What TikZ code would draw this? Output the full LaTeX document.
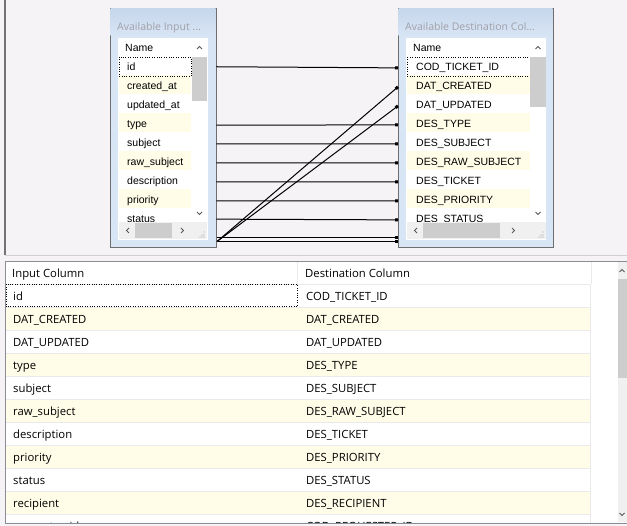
\documentclass[tikz,border=0pt]{standalone}
\usepackage{fontspec}
\setmainfont{Liberation Sans}
\newfontfamily\gridfont{Open Sans}
\usetikzlibrary{arrows.meta}

\definecolor{panelbg}{HTML}{F6F3F7}
\definecolor{boxblue}{HTML}{D8E5F5}
\definecolor{boxtop}{HTML}{C6D6EB}
\definecolor{boxedge}{HTML}{6E6E6E}
\definecolor{rowyellow}{HTML}{FFFDE8}
\definecolor{thumbgray}{HTML}{CDCDCD}
\definecolor{trackgray}{HTML}{F0F0F0}
\definecolor{titlegray}{HTML}{A0A0A8}
\definecolor{gridline}{HTML}{EAEAEA}
\definecolor{framegray}{HTML}{8C8C94}

\tikzset{
  item/.style={anchor=base west, inner sep=0pt, font=\fontsize{10.5}{12}\selectfont},
  title/.style={anchor=base west, inner sep=0pt, text=titlegray, font=\gridfont\fontsize{10.5}{12}\selectfont},
  cell/.style={anchor=base west, inner sep=0pt, font=\gridfont\fontsize{11.3}{13}\selectfont},
  listbox/.style={draw=boxedge, fill=boxblue, inner sep=0pt, anchor=north west},
  map/.style={line width=1pt, -{Square[length=3pt,width=3pt]}},
  chev/.style={line width=1pt, draw=black!65},
}

\begin{document}
\begin{tikzpicture}[x=1pt,y=-1pt]
   \useasboundingbox (0,0) rectangle (627,526);

   % draw background
   \fill[panelbg] (0,0) rectangle (627,526);
   \draw[black!55, line width=1.5pt] (5,0) -- (5,255);
   \draw[black!18] (5,255.5) -- (627,255.5);

   % draw input box
   \node[listbox, minimum width=106, minimum height=239] (inbox) at (110,8) {};
   \shade[top color=boxtop, bottom color=boxblue] (110.5,8.5) rectangle (215.5,36);
   \node[title] (intitle) at (117,31) {Available Input ...};
   \fill[white] (118,38) rectangle (208,240);
   \foreach \i in {2,4,6,8}
     \fill[rowyellow] (119,37.5+19*\i) rectangle (191,56.5+19*\i);
   \node[item] (inhead) at (125,51.5) {Name};
   \foreach \name [count=\i] in {id,created\_at,updated\_at,type,subject,raw\_subject,description,priority,status}
     \node[item] (in\i) at (127,51.5+19*\i) {\name};
   \draw[dotted] (119,57) rectangle (191,76);
   \fill[white] (192,39) rectangle (207,222);
   \fill[thumbgray] (192,57) rectangle (207,101);
   \draw[chev] (197,49) -- (199.5,46.5) -- (202,49);
   \draw[chev] (197,212) -- (199.5,214.5) -- (202,212);
   \fill[trackgray] (119,222) rectangle (207,239.5);
   \fill[thumbgray] (135,223) rectangle (172,238);
   \draw[chev] (129,228) -- (126.5,230.5) -- (129,233);
   \draw[chev] (181,228) -- (183.5,230.5) -- (181,233);
   \foreach \p in {(204,232),(202,235),(204,235),(200,237),(202,237),(204,237)}
     \fill[black!35] \p circle (0.6);

   % draw destination box
   \node[listbox, minimum width=155, minimum height=239] (outbox) at (398,8) {};
   \shade[top color=boxtop, bottom color=boxblue] (398.5,8.5) rectangle (552.5,36);
   \node[title] (outtitle) at (405,31) {Available Destination Col...};
   \fill[white] (406,38) rectangle (546,240);
   \foreach \i in {2,4,6,8}
     \fill[rowyellow] (407,37.5+19*\i) rectangle (530,56.5+19*\i);
   \node[item] (outhead) at (413,51.5) {Name};
   \foreach \name [count=\i] in {COD\_TICKET\_ID,DAT\_CREATED,DAT\_UPDATED,DES\_TYPE,DES\_SUBJECT,DES\_RAW\_SUBJECT,DES\_TICKET,DES\_PRIORITY,DES\_STATUS}
     \node[item] (out\i) at (416,51.5+19*\i) {\name};
   \draw[dotted] (407,57) rectangle (530,76);
   \fill[white] (530,39) rectangle (546,222);
   \fill[thumbgray] (530,57) rectangle (546,107);
   \draw[chev] (535.5,49) -- (538,46.5) -- (540.5,49);
   \draw[chev] (535.5,212) -- (538,214.5) -- (540.5,212);
   \fill[trackgray] (407,222) rectangle (546,239.5);
   \fill[thumbgray] (423,223) rectangle (500,238);
   \draw[chev] (417,228) -- (414.5,230.5) -- (417,233);
   \draw[chev] (512,228) -- (514.5,230.5) -- (512,233);
   \foreach \p in {(543,232),(541,235),(543,235),(539,237),(541,237),(543,237)}
     \fill[black!35] \p circle (0.6);

   % draw mappings
   \coordinate (lowa) at (217,237.5);
   \coordinate (lowb) at (217,241.5);
   \coordinate (lowc) at (398,237.5);
   \coordinate (lowd) at (398,241.5);
   \foreach \i in {1,4,5,6,7,8,9}
     \draw[map] (inbox.east |- in\i.west) -- (outbox.west |- out\i.west);
   \draw[map] (lowb) -- (outbox.west |- out2.west);
   \draw[map] (lowb) -- (outbox.west |- out3.west);
   \draw[map] (lowa) -- (lowc);
   \draw[map] (lowb) -- (lowd);

   % draw mapping table
   \fill[white] (5,261) rectangle (627,523);
   \begin{scope}
     \clip (5,261) rectangle (627,523);
     \foreach \k in {1,3,5,7,9}
       \fill[rowyellow] (6,284+23*\k) rectangle (590,307+23*\k);
     \foreach \k in {0,...,10}
       \draw[gridline] (6,284+23*\k) -- (590,284+23*\k);
     \draw[gridline] (297,262) -- (297,284);
     \draw[gridline] (591,262) -- (591,284);
     \draw[gridline] (590,284) -- (590,523);
     \node[cell] (srchead) at (12,277.5) {Input Column};
     \node[cell] (dsthead) at (305,277.5) {Destination Column};
     \foreach \src/\dst [count=\k from 0] in {id/COD\_TICKET\_ID,DAT\_CREATED/DAT\_CREATED,DAT\_UPDATED/DAT\_UPDATED,type/DES\_TYPE,subject/DES\_SUBJECT,raw\_subject/DES\_RAW\_SUBJECT,description/DES\_TICKET,priority/DES\_PRIORITY,status/DES\_STATUS,recipient/DES\_RECIPIENT,requester\_id/COD\_REQUESTER\_ID}
     {
       \node[cell] (src\k) at (13,300.5+23*\k) {\src};
       \node[cell] (dst\k) at (306,300.5+23*\k) {\dst};
     }
     \draw[dotted] (6,284.5) rectangle (297,306.5);
     \fill[trackgray] (618,262) rectangle (627,522);
     \fill[thumbgray] (618,279) rectangle (627,378);
     \draw[chev] (619.5,272) -- (622,269.5) -- (624.5,272);
     \draw[chev] (619.5,513) -- (622,515.5) -- (624.5,513);
   \end{scope}
   \draw[framegray] (627,261) -- (5,261) -- (5,523) -- (627,523);
\end{tikzpicture}
\end{document}
